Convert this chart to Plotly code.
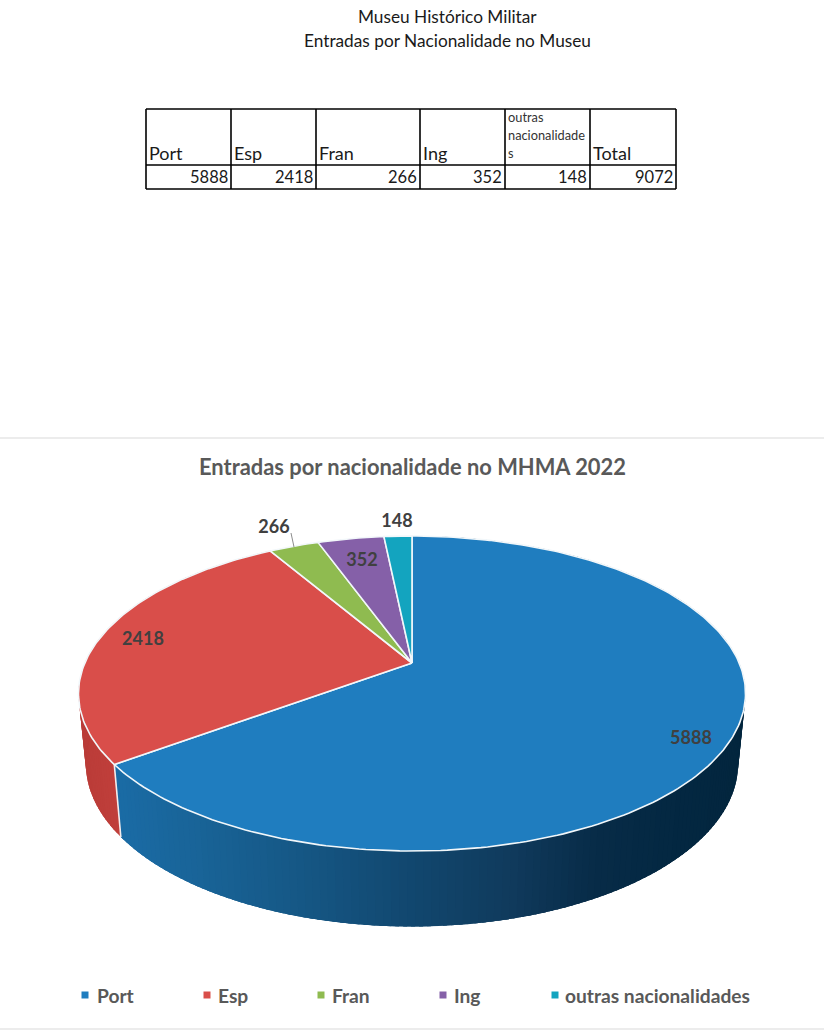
import numpy as np
import plotly.graph_objects as go

# ---- data ----
categories = ["Port", "Esp", "Fran", "Ing", "outras nacionalidades"]
values = [5888, 2418, 266, 352, 148]
total_value = 9072
table_headers = ["Port", "Esp", "Fran", "Ing", "outras<br>nacionalidade<br>s", "Total"]
table_values = [5888, 2418, 266, 352, 148, 9072]
page_titles = ["Museu Histórico Militar", "Entradas por Nacionalidade no Museu"]
chart_title = "Entradas por nacionalidade no MHMA 2022"

# ---- style ----
colors = ["#1f7dbf", "#d94e4a", "#8fbb50", "#8560a8", "#13a4bf"]
text_dark = "#404040"
FONT = "Lato"
CX, CY = 412.0, 663.0
AX, BY, K = 327.2, 151.6, 0.1937


def rim(theta):
    """Perspective projection of the disc rim; theta clockwise from top, radians."""
    u, v = np.sin(theta), np.cos(theta)
    d = 1 + K * v
    return CX + AX * u / d, CY - BY * v / d


def lower(x, y):
    return CX + (x - CX) * 0.978, 837.5 + (y - 765) * 1.035


def wall_color(x, stops):
    xs = [s[0] for s in stops]
    rgb = [np.interp(x, xs, [s[1][i] for s in stops]) for i in range(3)]
    return "rgb(%d,%d,%d)" % tuple(rgb)


blue_stops = [(115, (27, 108, 166)), (200, (25, 100, 152)), (300, (22, 88, 134)),
              (412, (18, 72, 112)), (520, (16, 58, 92)), (600, (8, 44, 72)),
              (680, (4, 40, 66)), (750, (3, 38, 62))]
red_stops = [(75, (186, 60, 56)), (125, (194, 64, 60))]

fig = go.Figure()
edges = np.concatenate([[0], np.cumsum(values)]) / total_value * 2 * np.pi


def add_poly(xs, ys, fill, line_color, line_width):
    fig.add_trace(go.Scatter(x=xs, y=ys, mode="lines", fill="toself", fillcolor=fill,
                             line=dict(color=line_color, width=line_width),
                             hoverinfo="skip", showlegend=False))


# side wall, in overlapping strips so no seams show; only the two front slices are visible
for i in range(2):
    a0, a1 = edges[i], edges[i + 1]
    n = max(2, int((a1 - a0) / 0.02))
    ts = np.linspace(a0, a1, n + 1)
    step = ts[1] - ts[0]
    for t0 in ts[:-1]:
        t1 = min(t0 + 2.5 * step, a1)
        tt = np.linspace(t0, t1, 4)
        x, y = rim(tt)
        lx, ly = lower(x, y)
        mx = float(x[0])
        c = wall_color(mx, blue_stops if i == 0 else red_stops)
        px = list(x) + list(lx[::-1]) + [x[0]]
        py = list(y) + list(ly[::-1]) + [y[0]]
        add_poly(px, py, c, "rgba(0,0,0,0)", 0)

# divider on the wall between first two slices
bx, by = rim(edges[1])
lx, ly = lower(bx, by)
fig.add_trace(go.Scatter(x=[bx, lx], y=[by, ly], mode="lines", line=dict(color="#f4ecec", width=1.6),
                         hoverinfo="skip", showlegend=False))

# top face
for i in range(len(values)):
    tt = np.linspace(edges[i], edges[i + 1], max(6, int((edges[i + 1] - edges[i]) * 60)))
    x, y = rim(tt)
    add_poly([CX] + list(x) + [CX], [CY] + list(y) + [CY], colors[i], "#f2f7fa", 1.6)

# data labels
label_x = [691, 143, 274, 362, 397]
label_y = [739.5, 640.5, 528.5, 561.5, 522.5]
fig.add_trace(go.Scatter(x=label_x, y=label_y, mode="text", text=[str(v) for v in values],
                         textfont=dict(family=FONT, size=18, color=text_dark, weight="bold"),
                         hoverinfo="skip", showlegend=False))
fig.add_trace(go.Scatter(x=[291, 294], y=[533, 547], mode="lines", line=dict(color="#8c8c8c", width=1),
                         hoverinfo="skip", showlegend=False))

# legend
leg_mx = [85, 207, 321, 443, 555]
leg_tx = [95, 216, 330, 452, 563]
fig.add_trace(go.Scatter(x=leg_mx, y=[995] * 5, mode="markers",
                         marker=dict(symbol="square", size=7, color=colors, line=dict(width=0)),
                         hoverinfo="skip", showlegend=False))
ann = []
for name, x in zip(categories, leg_tx):
    ann.append(dict(x=x, y=995, text=name, xanchor="left", yanchor="middle", showarrow=False,
                    font=dict(family=FONT, size=19.2, color="#595959", weight="bold")))

# titles
for t, y in zip(page_titles, [16, 40]):
    ann.append(dict(x=447.5, y=y, text=t, xanchor="center", yanchor="middle", showarrow=False,
                    font=dict(family=FONT, size=17.25, color="#1a1a1a")))
ann.append(dict(x=412, y=466, text=chart_title, xanchor="center", yanchor="middle", showarrow=False,
                font=dict(family=FONT, size=21.9, color="#595959", weight="bold")))

# table
col_x = [146, 231, 316, 420, 505, 590, 676]
row_y = [109, 165, 189]
for x in col_x:
    fig.add_trace(go.Scatter(x=[x, x], y=[row_y[0], row_y[-1]], mode="lines",
                             line=dict(color="#000000", width=1.6), hoverinfo="skip", showlegend=False))
for y in row_y:
    fig.add_trace(go.Scatter(x=[col_x[0], col_x[-1]], y=[y, y], mode="lines",
                             line=dict(color="#000000", width=1.6), hoverinfo="skip", showlegend=False))
small_y = [117, 135, 153]
for j, (h, v) in enumerate(zip(table_headers, table_values)):
    parts = h.split("<br>")
    if len(parts) > 1:
        for part, y in zip(parts, small_y):
            ann.append(dict(x=col_x[j] + 1, y=y, text=part, xanchor="left", yanchor="middle",
                            showarrow=False, font=dict(family=FONT, size=12.8, color="#333333")))
    else:
        ann.append(dict(x=col_x[j] + 1, y=153, text=h, xanchor="left", yanchor="middle",
                        showarrow=False, font=dict(family=FONT, size=18, color="#1a1a1a")))
    ann.append(dict(x=col_x[j + 1] - 1.5, y=177, text=str(v), xanchor="right", yanchor="middle",
                    showarrow=False, font=dict(family=FONT, size=16.5, color="#1a1a1a")))

# separator lines
for y in [438, 1029]:
    fig.add_trace(go.Scatter(x=[0, 824], y=[y, y], mode="lines", line=dict(color="#d9d9d9", width=1),
                             hoverinfo="skip", showlegend=False))

fig.update_layout(width=824, height=1030, margin=dict(l=0, r=0, t=0, b=0),
                  paper_bgcolor="white", plot_bgcolor="white", showlegend=False,
                  annotations=ann,
                  xaxis=dict(range=[0, 824], visible=False, fixedrange=True),
                  yaxis=dict(range=[1030, 0], visible=False, fixedrange=True))
fig.write_html("out.html", config=dict(displayModeBar=False),
               post_script="document.body.style.margin='0';")
